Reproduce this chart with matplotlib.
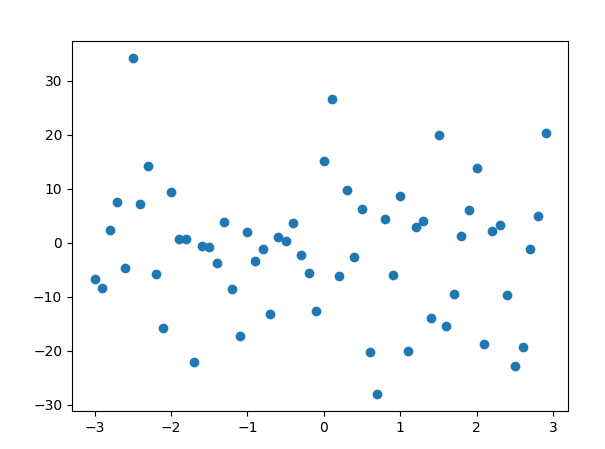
import matplotlib
matplotlib.use("Agg")
import matplotlib.pyplot as plt
import numpy as np

x = np.round(np.arange(-3.0, 2.95, 0.1), 1)
y = [
    -6.7, -8.3, 2.4, 7.6, -4.6, 34.3, 7.2, 14.3, -5.7, -15.7,
    9.4, 0.7, 0.7, -22.0, -0.5, -0.7, -3.7, 3.9, -8.5, -17.2,
    2.0, -3.3, -1.1, -13.1, 1.1, 0.4, 3.7, -2.2, -5.5, -12.6,
    15.2, 26.7, -6.1, 9.8, -2.6, 6.3, -20.2, -28.0, 4.4, -5.9,
    8.7, -20.0, 3.0, 4.1, -13.9, 20.0, -15.4, -9.4, 1.3, 6.1,
    13.9, -18.7, 2.2, 3.3, -9.6, -22.8, -19.3, -1.1, 5.0, 20.4,
]

fig, ax = plt.subplots(figsize=(6.05, 4.49), dpi=100)
fig.subplots_adjust(left=0.119, right=0.939, top=0.909, bottom=0.085)
ax.scatter(x, y)
fig.savefig("out.png", dpi=100)
